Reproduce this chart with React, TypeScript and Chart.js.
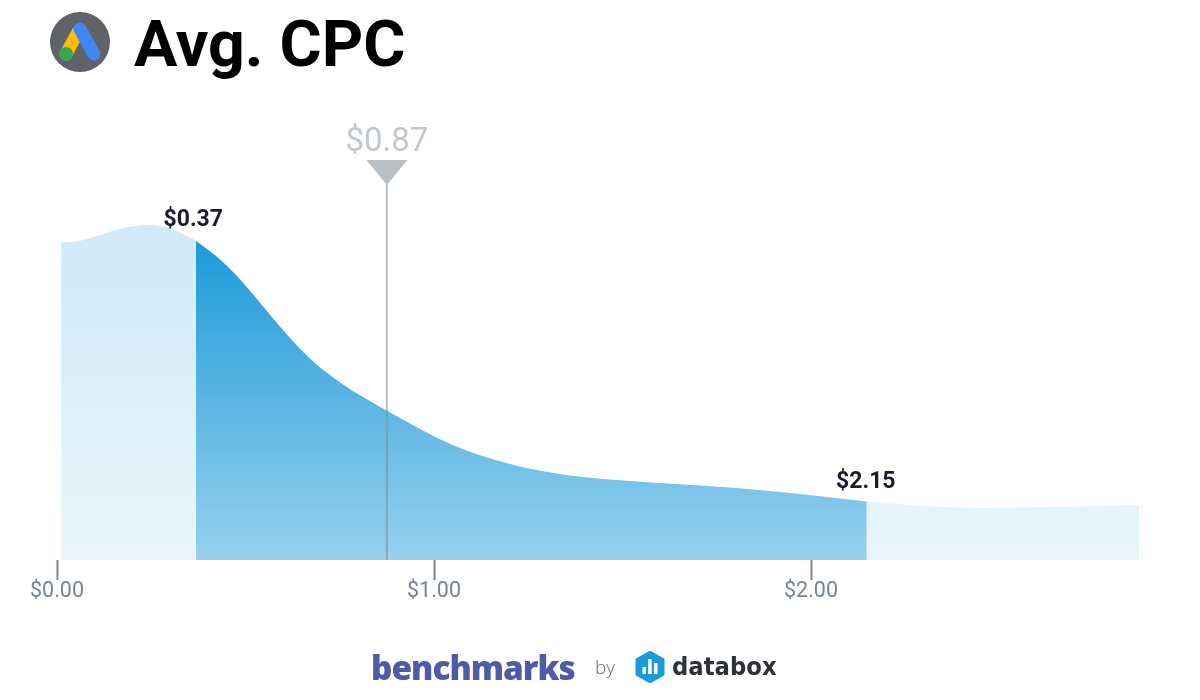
import React, { useEffect, useRef } from "react";
import { Chart, registerables } from "chart.js";

Chart.register(...registerables);

const cpcValues = [0.011, 0.061, 0.114, 0.167, 0.207, 0.247, 0.286, 0.326, 0.368, 0.422, 0.475, 0.528, 0.581, 0.634, 0.687, 0.74, 0.785, 0.83, 0.875, 0.963, 1.05, 1.141, 1.228, 1.316, 1.406, 1.493, 1.618, 1.793, 1.971, 2.148, 2.289, 2.448, 2.634, 2.87];
const density = [63.44, 63.84, 65, 66.24, 66.8, 67, 66.6, 65.5, 63.86, 60.8, 57, 52.4, 47.6, 43.1, 39.2, 36.1, 33.8, 31.8, 29.86, 26.2, 23, 20.5, 18.7, 17.4, 16.5, 15.94, 15.3, 14.44, 13.2, 11.68, 10.84, 10.4, 10.6, 11];
const xTicks = [0, 1, 2];
const lowerIndex = 8;
const upperIndex = 29;
const lowerLabel = "$0.37";
const upperLabel = "$2.15";
const medianLabel = "$0.87";
const medianValue = 0.875;

const points = cpcValues.map((x, i) => ({ x, y: density[i] }));

function gradient(chart: any, top: string, bottom: string) {
  const area = chart.chartArea;
  if (!area) return top;
  const g = chart.ctx.createLinearGradient(0, 240, 0, area.bottom);
  g.addColorStop(0, top);
  g.addColorStop(1, bottom);
  return g;
}

const lightFill = (ctx: any) => gradient(ctx.chart, "#d2eaf7", "#e9f5fb");
const darkFill = (ctx: any) => gradient(ctx.chart, "#1d9ad8", "#97d1ee");

const annotations = {
  id: "cpcAnnotations",
  afterDatasetsDraw(chart: any) {
    const { ctx, scales, chartArea } = chart;
    const x = scales.x;
    ctx.save();
    const mx = x.getPixelForValue(medianValue);
    ctx.strokeStyle = "rgba(125,135,145,0.55)";
    ctx.lineWidth = 2;
    ctx.beginPath();
    ctx.moveTo(mx, 182);
    ctx.lineTo(mx, chartArea.bottom);
    ctx.stroke();
    ctx.fillStyle = "#b8bfc5";
    ctx.beginPath();
    ctx.moveTo(mx - 20.5, 160);
    ctx.lineTo(mx + 20.5, 160);
    ctx.lineTo(mx, 185);
    ctx.closePath();
    ctx.fill();
    ctx.textAlign = "center";
    ctx.textBaseline = "alphabetic";
    ctx.fillStyle = "#c3c8ce";
    ctx.font = "33px Roboto";
    ctx.fillText(medianLabel, mx, 151);
    ctx.fillStyle = "#1b1c2c";
    ctx.font = "700 23px Roboto";
    ctx.fillText(lowerLabel, x.getPixelForValue(cpcValues[lowerIndex]) - 2.5, 226);
    ctx.fillText(upperLabel, x.getPixelForValue(cpcValues[upperIndex]) - 1, 488);
    ctx.restore();
  },
};

export default function App() {
  const ref = useRef<HTMLCanvasElement | null>(null);
  useEffect(() => {
    document.body.style.margin = "0";
    const base = { type: "line", pointRadius: 0, borderWidth: 0, fill: "origin", cubicInterpolationMode: "monotone" };
    const chart = new Chart(ref.current as HTMLCanvasElement, {
      type: "line",
      data: {
        datasets: [
          { ...base, label: "Below", data: points.slice(0, lowerIndex + 1), backgroundColor: lightFill },
          { ...base, label: "Range", data: points.slice(lowerIndex, upperIndex + 1), backgroundColor: darkFill },
          { ...base, label: "Above", data: points.slice(upperIndex), backgroundColor: lightFill },
        ] as any,
      },
      options: {
        animation: false,
        responsive: false,
        layout: { padding: { left: 57, right: 61, top: 60, bottom: 0 } },
        plugins: { legend: { display: false }, title: { display: false }, tooltip: { enabled: false } },
        scales: {
          x: {
            type: "linear",
            min: 0,
            max: 2.87,
            afterBuildTicks: (s: any) => {
              s.ticks = xTicks.map((value) => ({ value }));
            },
            afterFit: (s: any) => {
              s.height = 140;
            },
            border: { display: false },
            grid: { drawOnChartArea: false, drawTicks: true, tickLength: 20, tickColor: "#7b8690", tickWidth: 2 },
            ticks: {
              padding: -1,
              maxRotation: 0,
              color: "#78848f",
              font: { family: "Roboto", size: 21.5 },
              callback: (v: any) => "$" + Number(v).toFixed(2),
            },
          },
          y: { display: false, min: 0, max: 100 },
        },
      } as any,
      plugins: [annotations],
    });
    return () => chart.destroy();
  }, []);

  return (
    <div style={{ position: "absolute", left: 0, top: 0, width: 1200, height: 700, background: "#fff", overflow: "hidden" }}>
      <canvas ref={ref} width={1200} height={700} style={{ position: "absolute", left: 0, top: 0, display: "block" }} />
      <svg width={60} height={60} viewBox="0 0 60 60" style={{ position: "absolute", left: 50, top: 12 }}>
        <circle cx={30} cy={30} r={30} fill="#5f6368" />
        <path d="M16 42 L28 20" stroke="#fbbc04" strokeWidth={13} strokeLinecap="round" />
        <path d="M30 17 L44 42" stroke="#4285f4" strokeWidth={13} strokeLinecap="round" />
        <circle cx={16} cy={42} r={7} fill="#34a853" />
      </svg>
      <div style={{ position: "absolute", left: 134, top: 9, font: "700 64.5px/70px Roboto", color: "#000", whiteSpace: "nowrap" }}>Avg. CPC</div>
      <div style={{ position: "absolute", left: 371, top: 647, font: "800 34px/40px 'Open Sans'", color: "#4f5aa8", transformOrigin: "left center", transform: "scaleX(0.98)", whiteSpace: "nowrap", letterSpacing: -1 }}>benchmarks</div>
      <div style={{ position: "absolute", left: 595, top: 655, font: "300 19px/24px 'Open Sans'", color: "#6b6f75", whiteSpace: "nowrap" }}>by</div>
      <svg width={30} height={32} viewBox="0 0 30 32" style={{ position: "absolute", left: 635, top: 651 }}>
        <path d="M15 0 L29 8 L29 24 L15 32 L1 24 L1 8 Z" fill="#1a9bdb" stroke="#1a9bdb" strokeLinejoin="round" strokeWidth={1} />
        <rect x={7.5} y={16} width={3.5} height={7} fill="#fff" />
        <rect x={13.2} y={8} width={3.5} height={15} fill="#fff" />
        <rect x={19} y={12} width={3.5} height={11} fill="#fff" />
      </svg>
      <div style={{ position: "absolute", left: 672, top: 652, font: "700 24px/30px 'DejaVu Sans'", color: "#2e3238", whiteSpace: "nowrap", transformOrigin: "left center", transform: "scaleX(0.95)" }}>databox</div>
    </div>
  );
}
